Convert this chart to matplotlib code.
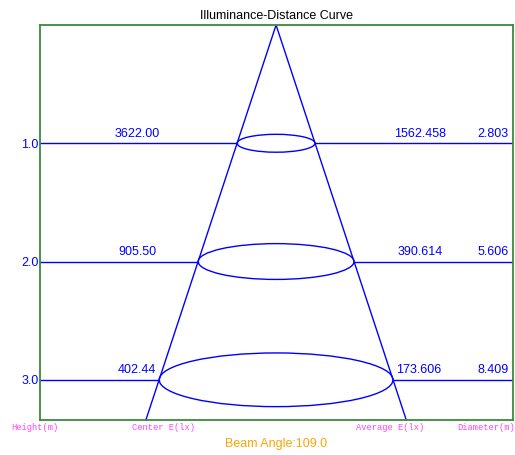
import numpy as np
import matplotlib.pyplot as plt
from matplotlib.patches import Ellipse

# data
heights = [1.0, 2.0, 3.0]
center_e = ['3622.00', '905.50', '402.44']
average_e = ['1562.458', '390.614', '173.606']
diameters = [2.803, 5.606, 8.409]
beam_angle = 109.0

blue = '#0000ff'
green = '#3a8a3a'
magenta = '#ff44ff'

fig = plt.figure(figsize=(5.15, 4.55), dpi=100)
ax = fig.add_axes([40 / 515, 35 / 455, 473 / 515, 395 / 455])

xmin, xmax = -8.49, 8.52
ybot = 3.34
ax.set_xlim(xmin, xmax)
ax.set_ylim(ybot, 0)

half_tan = np.tan(np.radians(beam_angle / 2))

# cone
ax.plot([-ybot * half_tan, 0, ybot * half_tan], [ybot, 0, ybot], color=blue, lw=1)

for h, ce, ae, d in zip(heights, center_e, average_e, diameters):
    r = d / 2
    ax.plot([xmin, -r], [h, h], color=blue, lw=1)
    ax.plot([r, xmax], [h, h], color=blue, lw=1)
    ax.add_patch(Ellipse((0, h), d, 0.054 * d, fill=False, edgecolor=blue, lw=1))
    # center value: centered on left part, but stop at the cone edge
    t = ax.text(-5.0, h - 0.03, ce, color=blue, fontsize=9, ha='center', va='bottom',
                family='Liberation Sans')
    if -5.0 + 1.0 > -r - 0.1:
        t.set_x(-r - 0.1)
        t.set_ha('right')
    t2 = ax.text(5.18, h - 0.03, ae, color=blue, fontsize=9, ha='center', va='bottom',
                 family='Liberation Sans')
    if 5.18 - 1.1 < r + 0.1:
        t2.set_x(r + 0.1)
        t2.set_ha('left')
    ax.text(8.35, h - 0.03, f'{d:.3f}', color=blue, fontsize=9, ha='right', va='bottom',
            family='Liberation Sans')

ax.set_yticks(heights)
ax.set_yticklabels([f'{h:.1f}' for h in heights], color=blue, fontsize=9, family='Liberation Sans')
ax.tick_params(axis='y', length=0, pad=1)
ax.set_xticks([])
for s in ax.spines.values():
    s.set_color(green)
    s.set_linewidth(1.3)

ax.set_title('Illuminance-Distance Curve', fontsize=9, family='Liberation Sans', pad=4)

for x, lab in [(35, 'Height(m)'), (164, 'Center E(lx)'), (390, 'Average E(lx)'), (486, 'Diameter(m)')]:
    fig.text(x / 515, 1 - 427 / 455, lab, color=magenta, fontsize=6.3, ha='center', va='center',
             family='Liberation Mono')

fig.text(276 / 515, 1 - 444 / 455, f'Beam Angle:{beam_angle:.1f}', color='#ffa500', fontsize=9,
         ha='center', va='center', family='Liberation Sans')

fig.savefig('out.png', dpi=100)
